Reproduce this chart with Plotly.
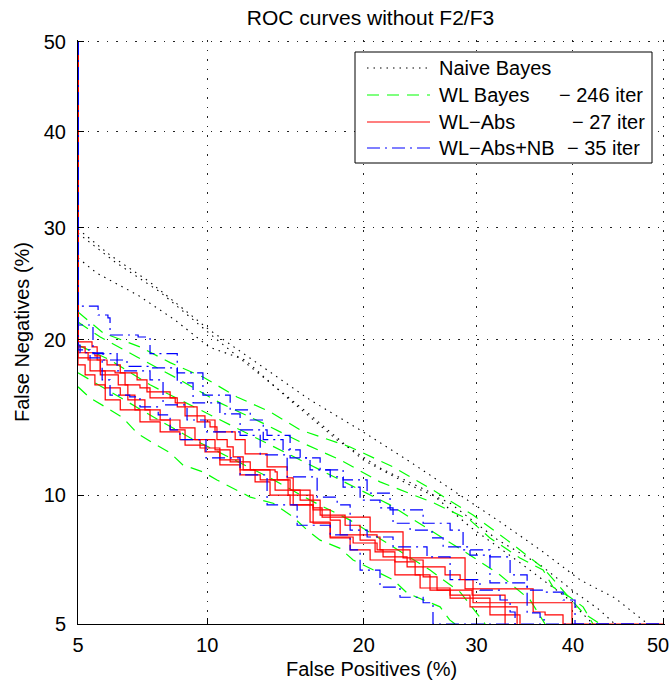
import math
import plotly.graph_objects as go

# ---------------- data (percent) ----------------
tick_vals = [5, 10, 20, 30, 40, 50]
tick_text = ["5", "10", "20", "30", "40", "50"]

# Naive Bayes (dotted black)
nb1_fp = [5.0, 6.0, 7.45, 10.1, 12.85, 16.05, 19.7, 23.85, 28.4, 32.35, 36.5, 40.8, 44.6, 48.3]
nb1_fn = [29.85, 27.35, 24.88, 20.8, 18.07, 15.59, 13.65, 11.77, 10.02, 8.75, 7.56, 6.42, 5.81, 5.0]
nb2_fp = [5.0, 6.17, 7.87, 10.38, 13.47, 16.05, 19.95, 23.85, 27.45, 32.1, 36.5, 40.2, 42.9, 44.6]
nb2_fn = [29.45, 26.7, 23.99, 20.15, 16.77, 14.6, 11.88, 10.52, 9.63, 7.97, 6.97, 6.0, 5.43, 5.0]
nb3_fp = [5.0, 5.57, 7.0, 8.5, 10.1, 12.0, 14.7, 17.98, 21.3, 25.6, 29.4, 34.4, 39.3, 42.2]
nb3_fn = [27.08, 25.68, 23.7, 21.6, 19.43, 18.44, 15.59, 13.03, 11.43, 10.17, 8.52, 7.05, 5.82, 5.0]

# WL Bayes (green dashed)
g1_fp = [5, 5.77, 7.07, 8.29, 9.79, 11.55, 13.46, 15.38, 18.95, 22.39, 25.89, 29.66, 33.06, 36.80, 39.37, 41.11, 42.98]
g1_fn = [22.27, 20.55, 19.44, 18.24, 17.19, 15.79, 14.79, 13.65, 12.62, 11.49, 10.27, 9.06, 7.96, 6.86, 5.90, 5.33, 5.0]
g2_fp = [5, 5.68, 6.96, 8.72, 10.64, 12.87, 15.38, 18.20, 21.31, 25.89, 29.37, 31.33, 34.38, 36.80, 37.86, 39.69, 41.11, 42.2]
g2_fn = [21.44, 20.22, 18.67, 16.98, 15.39, 14.15, 12.92, 11.88, 10.69, 9.65, 8.83, 8.05, 7.24, 6.78, 6.17, 5.83, 5.52, 5.0]
g3_fp = [5, 6.0, 7.46, 9.18, 11.18, 13.46, 16.05, 18.95, 22.14, 25.62, 29.37, 32.34, 35.43, 37.01]
g3_fn = [19.59, 18.44, 16.63, 15.25, 13.96, 12.73, 11.60, 10.52, 9.54, 8.39, 7.35, 6.60, 5.74, 5.0]
g4_fp = [5, 6.0, 7.46, 9.18, 11.18, 13.46, 16.05, 18.95, 22.14, 25.62, 28.42, 30.85]
g4_fn = [17.49, 16.14, 14.59, 13.17, 11.99, 10.90, 9.77, 8.83, 7.76, 6.78, 6.0, 5.0]
g5_fp = [5, 5.36, 5.90, 6.45, 6.96, 7.58, 8.29, 8.85, 9.79, 10.49, 12.29, 13.65, 14.92, 15.85, 16.75, 18.20, 19.18, 20.74, 22.39, 23.59, 26.54, 27.43, 27.94]
g5_fn = [16.49, 15.72, 15.05, 14.40, 13.45, 12.85, 12.28, 11.60, 11.22, 10.79, 9.92, 9.62, 8.97, 8.39, 7.96, 7.62, 7.16, 6.78, 6.43, 5.97, 5.52, 5.12, 5.0]

# WL-Abs (red solid, stairs)
r1_fp = [5, 5, 5.42, 5.58, 5.90, 6.35, 6.96, 7.34, 8.29, 8.60, 9.51, 10.14, 10.49, 11.02, 11.34, 11.89, 13.77, 13.90, 14.59, 16.26, 16.89, 18.20, 20.51, 23.24, 28.89, 35.75, 37.01, 38.93, 38.93, 50]
r1_fn = [50, 19.83, 19.44, 18.44, 18.07, 17.49, 16.98, 16.14, 15.72, 15.12, 14.15, 13.83, 13.05, 12.62, 12.05, 11.33, 11.22, 10.79, 10.02, 9.40, 8.97, 8.97, 8.31, 7.24, 6.11, 5.36, 5.27, 5.12, 5.0, 5.0]
r2_fp = [5, 5, 5.21, 5.51, 5.68, 6.17, 6.52, 7.07, 7.46, 8.51, 8.95, 9.89, 10.39, 11.45, 12.0, 13.28, 14.53, 14.92, 16.26, 17.47, 18.20, 21.07, 21.31, 23.85, 25.0, 27.0, 28.42, 29.66, 39.9, 39.9]
r2_fn = [50, 19.44, 18.99, 18.75, 17.63, 17.49, 16.63, 16.42, 15.72, 15.39, 14.53, 14.27, 13.52, 13.05, 12.22, 11.49, 10.90, 9.54, 9.30, 8.83, 8.18, 8.09, 7.56, 7.16, 6.90, 6.60, 6.43, 5.65, 5.65, 5.0]
r3_fp = [5, 5, 5.30, 5.68, 6.28, 6.62, 7.26, 7.87, 8.72, 9.41, 10.39, 11.18, 12.29, 13.46, 14.72, 16.05, 16.26, 17.47, 19.18, 21.07, 21.56, 23.59, 25.0, 26.26, 29.57, 32.85, 32.85]
r3_fn = [50, 18.99, 18.44, 17.34, 16.63, 15.59, 14.92, 14.27, 13.77, 13.05, 12.45, 11.77, 11.33, 10.79, 10.27, 9.54, 8.69, 8.09, 7.84, 7.56, 7.28, 6.90, 6.53, 6.07, 5.90, 5.52, 5.0]
r4_fp = [5, 5, 5.36, 5.84, 6.35, 6.88, 7.46, 8.29, 8.95, 9.89, 10.64, 11.72, 12.87, 13.77, 15.38, 16.75, 18.57, 19.72, 20.91, 22.55, 24.29, 25.62, 27.47, 29.37, 34.08, 34.08]
r4_fn = [50, 18.60, 17.63, 16.42, 15.92, 14.92, 14.27, 13.65, 12.73, 12.34, 11.60, 11.06, 10.79, 10.27, 9.77, 9.06, 8.60, 7.96, 7.48, 7.09, 6.60, 6.07, 5.90, 5.52, 5.33, 5.0]
r5_fp = [5, 5, 5.21, 5.51, 5.84, 6.35, 7.07, 7.87, 8.72, 9.65, 10.64, 11.72, 12.57, 13.46, 14.72, 16.05, 17.47, 18.95, 20.51, 22.55, 24.73, 27.47, 31.33, 34.38, 34.38]
r5_fn = [50, 18.07, 17.34, 16.63, 15.59, 14.92, 14.15, 13.52, 13.05, 12.56, 11.88, 11.33, 10.69, 10.02, 9.54, 8.74, 8.05, 7.56, 7.16, 6.60, 6.14, 5.80, 5.27, 5.12, 5.0]

# WL-Abs+NB (blue dash-dot, stairs)
b1_fp = [5, 5, 5.61, 5.93, 6.0, 7.0, 7.46, 8.60, 9.79, 11.18, 12.29, 13.05, 14.27, 15.38, 16.75, 18.42, 20.27, 22.14, 25.0, 27.47, 28.70, 31.33, 33.36, 35.12, 37.01, 38.93, 40.23, 50]
b1_fn = [50, 22.77, 22.02, 21.77, 20.38, 20.22, 18.93, 17.49, 15.92, 14.92, 14.27, 13.05, 12.45, 11.99, 11.33, 10.79, 10.12, 9.30, 8.69, 8.39, 7.56, 7.28, 6.60, 6.07, 6.0, 5.74, 5.0, 5.0]
b2_fp = [5, 5, 5.45, 6.24, 6.59, 7.46, 8.60, 9.32, 10.64, 11.72, 13.28, 14.72, 16.05, 17.47, 18.42, 19.72, 21.31, 22.39, 23.85, 25.80, 26.82, 29.37, 31.33, 35.12, 35.12, 36.48, 37.01]
b2_fn = [50, 21.19, 18.93, 18.44, 17.96, 17.85, 16.77, 15.39, 14.66, 13.65, 13.31, 11.99, 11.33, 10.95, 10.42, 9.77, 9.40, 8.69, 8.39, 8.05, 7.68, 7.35, 6.32, 6.0, 5.33, 5.12, 5.0]
b3_fp = [5, 5, 5.06, 5.77, 6.24, 7.46, 7.99, 9.04, 9.89, 11.72, 12.87, 14.53, 16.54, 17.98, 18.95, 20.27, 22.39, 25.35, 27.47, 30.34, 32.34, 33.36, 33.87]
b3_fn = [50, 19.59, 18.99, 18.44, 17.63, 16.98, 15.25, 14.27, 13.52, 13.31, 12.16, 10.95, 9.92, 9.54, 8.39, 8.09, 7.68, 7.28, 6.43, 6.07, 5.74, 5.36, 5.0]
b4_fp = [5, 5, 5.36, 5.74, 6.0, 6.69, 7.07, 7.79, 8.29, 8.72, 9.94, 11.72, 13.28, 15.18, 17.47, 18.95, 19.72, 21.31, 22.98, 25.0, 25.89, 25.89, 50]
b4_fn = [50, 19.21, 18.60, 16.98, 15.92, 15.79, 15.12, 14.60, 13.65, 13.05, 11.99, 11.06, 9.54, 8.60, 8.18, 7.56, 6.78, 6.17, 5.83, 5.65, 5.33, 5.0, 5.0]

legend_names = ["Naive Bayes", "WL Bayes", "WL\u2212Abs", "WL\u2212Abs+NB"]
legend_suffix = ["", "\u2212 246 iter", "\u2212 27 iter", "\u2212 35 iter"]


# ---------------- normal-deviate (probit) scale ----------------
def probit(p):
    a = [-3.969683028665376e+01, 2.209460984245205e+02, -2.759285104469687e+02,
         1.383577518672690e+02, -3.066479806614716e+01, 2.506628277459239e+00]
    b = [-5.447609879822406e+01, 1.615858368580409e+02, -1.556989798598866e+02,
         6.680131188771972e+01, -1.328068155288572e+01]
    c = [-7.784894002430293e-03, -3.223964580411365e-01, -2.400758277161838e+00,
         -2.549732539343734e+00, 4.374664141464968e+00, 2.938163982698783e+00]
    d = [7.784695709041462e-03, 3.224671290700398e-01, 2.445134137142996e+00,
         3.754408661907416e+00]
    plow = 0.02425
    if p < plow:
        q = math.sqrt(-2 * math.log(p))
        return (((((c[0]*q + c[1])*q + c[2])*q + c[3])*q + c[4])*q + c[5]) / \
               ((((d[0]*q + d[1])*q + d[2])*q + d[3])*q + 1)
    if p > 1 - plow:
        return -probit(1 - p)
    q = p - 0.5
    r = q * q
    return (((((a[0]*r + a[1])*r + a[2])*r + a[3])*r + a[4])*r + a[5])*q / \
           (((((b[0]*r + b[1])*r + b[2])*r + b[3])*r + b[4])*r + 1)


def tr(vals):
    return [probit(v / 100.0) for v in vals]


styles = [
    dict(color="black", width=1.1, dash="1.5px,5px"),
    dict(color="#00ff00", width=1.2, dash="12px,8px"),
    dict(color="#ff0000", width=1.2, dash="solid"),
    dict(color="#0000ff", width=1.2, dash="13px,5px,2px,5px"),
]
shapes_kind = ["linear", "linear", "hv", "hv"]
curve_sets = [
    [(nb1_fp, nb1_fn), (nb2_fp, nb2_fn), (nb3_fp, nb3_fn)],
    [(g1_fp, g1_fn), (g2_fp, g2_fn), (g3_fp, g3_fn), (g4_fp, g4_fn), (g5_fp, g5_fn)],
    [(r1_fp, r1_fn), (r2_fp, r2_fn), (r3_fp, r3_fn), (r4_fp, r4_fn), (r5_fp, r5_fn)],
    [(b1_fp, b1_fn), (b2_fp, b2_fn), (b3_fp, b3_fn), (b4_fp, b4_fn)],
]

fig = go.Figure()
for k, curves in enumerate(curve_sets):
    for fp, fn in curves:
        fig.add_trace(go.Scatter(
            x=tr(fp), y=tr(fn), mode="lines", name=legend_names[k],
            showlegend=False, line=dict(shape=shapes_kind[k], **styles[k]),
            hoverinfo="skip"))

FONT = "Liberation Sans, Arial, Helvetica, sans-serif"
tv = tr(tick_vals)
EPS = 0.0056  # two pixels of slack so the 50% grid lines are drawn
lo, hi = probit(0.05), probit(0.5) + EPS

# the last x tick label sits at the page edge: draw it right-aligned instead
x_tick_text = tick_text[:-1] + [""]

axis_common = dict(
    range=[lo, hi], tickmode="array", tickvals=tv,
    showgrid=True, gridcolor="#222222", gridwidth=1, griddash="1.5px,8px",
    zeroline=False, showline=True, linecolor="black", linewidth=1,
    ticks="inside", ticklen=6, tickcolor="black", automargin=False,
    tickfont=dict(family=FONT, size=20, color="black"),
)

L, R, T, B = 78, 7, 40, 58
W, H = 672, 682
PW, PH = W - L - R, H - T - B


def px(xp):
    return (xp - L) / PW


def py(yp):
    return (H - B - yp) / PH


# hand-drawn legend box (layout only)
shapes = [dict(type="rect", xref="paper", yref="paper",
               x0=px(355), x1=px(652), y0=py(163), y1=py(52),
               line=dict(color="black", width=1), fillcolor="white", layer="above")]
annotations = [dict(text=tick_text[-1], xref="x", yref="paper", x=tv[-1], y=0,
                    xanchor="right", yanchor="middle", xshift=8, yshift=-21,
                    showarrow=False, font=dict(family=FONT, size=20, color="black"))]
row_y = [68, 95, 122, 148]
suffix_x = [None, 557, 570, 565]
for k in range(4):
    st = styles[k]
    shapes.append(dict(type="line", xref="paper", yref="paper",
                       x0=px(367), x1=px(430), y0=py(row_y[k]), y1=py(row_y[k]),
                       line=dict(color=st["color"], width=st["width"], dash=st["dash"]),
                       layer="above"))
    annotations.append(dict(text=legend_names[k], xref="paper", yref="paper",
                            x=px(437), y=py(row_y[k]), xanchor="left", yanchor="middle",
                            showarrow=False, font=dict(family=FONT, size=20, color="black")))
    if legend_suffix[k]:
        annotations.append(dict(text=legend_suffix[k], xref="paper", yref="paper",
                                x=px(suffix_x[k]), y=py(row_y[k]), xanchor="left",
                                yanchor="middle", showarrow=False,
                                font=dict(family=FONT, size=20, color="black")))

fig.update_layout(
    width=W, height=H,
    margin=dict(l=L, r=R, t=T, b=B),
    paper_bgcolor="white", plot_bgcolor="white",
    title=dict(text="ROC curves without F2/F3", x=(370.5) / W, xref="container",
               xanchor="center", y=1 - 18 / H, yref="container", yanchor="middle",
               font=dict(family=FONT, size=21, color="black")),
    xaxis=dict(title=dict(text="False Positives (%)", standoff=6,
                          font=dict(family=FONT, size=20, color="black")),
               ticktext=x_tick_text, ticklabelstandoff=3, **axis_common),
    yaxis=dict(title=dict(text="False Negatives (%)", standoff=8,
                          font=dict(family=FONT, size=20, color="black")),
               ticktext=tick_text, ticklabelstandoff=7, **axis_common),
    shapes=shapes, annotations=annotations,
    showlegend=False,
)

fig.write_html("out.html", config={"displayModeBar": False},
               post_script="document.body.style.margin='0';document.body.style.padding='0';")
